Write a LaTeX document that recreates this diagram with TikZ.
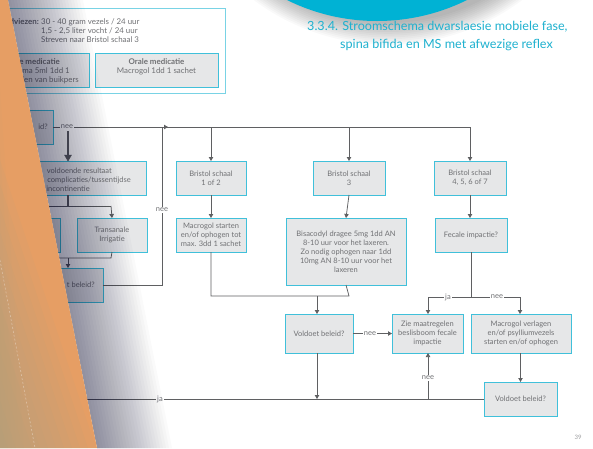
\documentclass[tikz,border=0pt]{standalone}
\usepackage{fontspec}
\setmainfont{Lato}
\usetikzlibrary{arrows.meta}
\definecolor{cyanT}{RGB}{30,177,207}
\definecolor{cyanC}{RGB}{0,178,212}
\definecolor{boxc}{RGB}{64,192,218}
\definecolor{boxf}{RGB}{230,231,232}
\definecolor{linec}{RGB}{95,96,98}
\definecolor{txt}{RGB}{112,113,116}
\definecolor{orangeC}{RGB}{230,158,100}
\definecolor{oliveC}{RGB}{176,168,134}
\newcommand\mybox[6]{\node[bx, minimum width={(#4)-(#2)}, minimum height={(#5)-(#3)}] (#1) at (#2,#3) {#6};}
\tikzset{
  bx/.style={draw=boxc, fill=boxf, line width=0.9pt, inner sep=1pt, outer sep=0pt, text=txt, align=center,
    font=\fontsize{7.5}{9}\selectfont, anchor=north west},
  conn/.style={draw=linec, line width=0.75pt},
  thick stem/.style={draw=linec, line width=1.6pt},
  arr/.style={conn, -{Triangle[length=4pt,width=4.4pt]}},
  lbl/.style={fill=white, inner sep=1pt, text=txt, font=\fontsize{7.5}{8}\selectfont},
  frag/.style={text=txt, inner sep=0pt, anchor=east, font=\fontsize{7.5}{9}\selectfont},
  toptxt/.style={text=txt, inner sep=0pt, anchor=west, font=\fontsize{7.9}{9}\selectfont},
  title/.style={text=cyanT, inner sep=0pt, anchor=west, font=\fontsize{12.6}{14}\selectfont},
}
\begin{document}
\begin{tikzpicture}[x=1pt,y=-1pt]
\useasboundingbox (0,0) rectangle (593,448);
\begin{scope}
\clip (0,0) rectangle (593,448);
\fill[white] (0,0) rectangle (593,448);
% circle with soft shadow
\foreach \k in {0,...,12} {\fill[black,opacity=0.025] (388,-180) circle ({203+1.8*\k});}
\fill[cyanC] (377,-182) circle (203);
% title
\node[title] (t1) at (307,27) {3.3.4. Stroomschema dwarslaesie mobiele fase,};
\node[title] (t2) at (340,45) {spina bifida en MS met afwezige reflex};
% advice box
\node[draw=boxc!70, fill=white, line width=0.6pt, anchor=north west, minimum width=235pt, minimum height=85pt, inner sep=0pt] (adv) at (-10,8) {};
\node[toptxt, anchor=east, font=\bfseries\fontsize{7.9}{9}\selectfont] (advl) at (39,22) {dviezen:};
\node[toptxt] (adv1) at (41,22) {30 - 40 gram vezels / 24 uur};
\node[toptxt] (adv2) at (41,31) {1,5 - 2,5 liter vocht / 24 uur};
\node[toptxt] (adv3) at (41,40) {Streven naar Bristol schaal 3};
\mybox{rect}{-10}{53}{89}{87}{}
\node[toptxt, anchor=east, font=\bfseries\fontsize{7.9}{9}\selectfont] (rect1) at (60,62) {e medicatie};
\node[toptxt, anchor=east] (rect2) at (70,71) {ma 5ml 1dd 1};
\node[toptxt, anchor=east] (rect3) at (79,80) {len van buikpers};
\mybox{oral}{95}{53}{218}{87}{}
\node[toptxt, anchor=center, font=\bfseries\fontsize{7.9}{9}\selectfont] (oral1) at (156.5,62) {Orale medicatie};
\node[toptxt, anchor=center] (oral2) at (156.5,71) {Macrogol 1dd 1 sachet};
% left column
\mybox{A}{-7}{110}{53}{144}{}
\node[frag] (a1) at (48,127) {id?};
\mybox{B}{-10}{161}{146}{195}{}
\node[frag] (b1) at (112,171) {voldoende resultaat};
\node[frag] (b2) at (131,180) {complicaties/tussentijdse};
\node[frag] (b3) at (90,189) {incontinentie};
\mybox{Lh}{-10}{218}{60}{252}{}
\mybox{T}{77}{218}{147}{252}{Transanale\\Irrigatie}
\mybox{C}{37}{268}{103}{302}{}
\node[frag] (c1) at (95,285) {t beleid?};
% middle / right columns
\mybox{D}{176}{161}{246}{195}{Bristol schaal\\1 of 2}
\mybox{E}{176}{218}{246}{252}{Macrogol starten\\en/of ophogen tot\\max. 3dd 1 sachet}
\mybox{G}{313}{161}{385}{195}{Bristol schaal\\3}
\mybox{H}{286}{218}{406}{285}{Bisacodyl dragee 5mg 1dd AN\\8-10 uur voor het laxeren.\\Zo nodig ophogen naar 1dd\\10mg AN 8-10 uur voor het\\laxeren}
\mybox{I}{434}{161}{506}{195}{Bristol schaal\\4, 5, 6 of 7}
\mybox{J}{435}{218}{507}{252}{Fecale impactie?}
\mybox{F}{285}{314}{353}{353}{Voldoet beleid?}
\mybox{K}{392}{314}{463}{353}{Zie maatregelen\\beslisboom fecale\\impactie}
\mybox{L}{471}{314}{571}{353}{Macrogol verlagen\\en/of psylliumvezels\\starten en/of ophogen}
\mybox{M}{484}{382}{557}{416}{Voldoet beleid?}
% coordinates
\coordinate (j0) at (68,127);
\coordinate (j1) at (211,127);
\coordinate (j2) at (349,127);
\coordinate (j3) at (470,127);
\coordinate (fb1) at (162,285);
\coordinate (fb2) at (162,127);
\coordinate (fb3) at (168,127);
\coordinate (s1) at (68,206);
\coordinate (s2) at (25,206);
\coordinate (s3) at (111,206);
\coordinate (m1) at (25,258);
\coordinate (m2) at (111,258);
\coordinate (m3) at (68,258);
\coordinate (e1) at (211,296);
\coordinate (e2) at (349,296);
\coordinate (e3) at (317,296);
\coordinate (f1) at (471,297);
\coordinate (f2) at (428,297);
\coordinate (f3) at (520,297);
\coordinate (g0) at (0,399);
\coordinate (g1) at (317,399);
\coordinate (g2) at (428,399);
% connectors
\draw[conn] (A.east |- j0) -- (j3);
\node[lbl] (n0) at (67,127) {nee};
\draw[thick stem] (68,131) -- (68,156);
\draw[linec, fill=linec] (64.5,155) -- (71.5,155) -- (68,161) -- cycle;
\draw[arr] (j1) -- (D.north);
\draw[arr] (j2) -- (G.north);
\draw[arr] (j3) -- (I.north);
\draw[thick stem] (B.south -| s1) -- (s1);
\draw[conn] (s2) -- (s3);
\draw[arr] (s2) -- (Lh.north -| s2);
\draw[arr] (s3) -- (T.north);
\draw[conn] (Lh.south -| m1) -- (m1) -- (m2) -- (T.south);
\draw[arr] (m3) -- (C.north -| m3);
\draw[arr] (C.east |- fb1) -- (fb1) -- (fb2) -- (fb3);
\node[lbl] (n1) at (162,210) {nee};
\draw[arr] (D.south) -- (E.north);
\draw[arr] (G.south) -- (H.north);
\draw[arr] (I.south) -- (J.north -| I.south);
\draw[conn] (E.south) -- (e1) -- (e2) -- (H.south);
\draw[arr] (e3) -- (F.north -| e3);
\draw[conn] (J.south -| f1) -- (f1);
\draw[conn] (f2) -- (f3);
\draw[arr] (f2) -- (K.north -| f2);
\draw[arr] (f3) -- (L.north -| f3);
\node[lbl] (n2) at (448,297) {ja};
\node[lbl] (n3) at (497,297) {nee};
\draw[arr] (F.east) -- (K.west);
\node[lbl] (n4) at (370,333.5) {nee};
\draw[arr] (L.south -| M.north) -- (M.north);
\draw[conn] (M.west) -- (g0 |- M.west);
\node[lbl] (n5) at (160,399) {ja};
\draw[arr] (F.south -| g1) -- (g1);
\draw[arr] (g2) -- (K.south -| g2);
\node[lbl] (n6) at (428,378) {nee};
% page number
\node[text=txt!70, font=\fontsize{6}{6}\selectfont, inner sep=0pt] (pg) at (578,437) {39};
% shadow of the orange page
\foreach \d in {3,6,...,75} {\fill[black!85!blue, opacity=0.021] (8,0) -- ({8+\d},0) -- ({97+\d},448) -- (97,448) -- cycle;}
% orange page
\fill[orangeC] (0,0) -- (8,0) -- (97,448) -- (0,448) -- cycle;
\begin{scope}
\clip (0,0) -- (8,0) -- (97,448) -- (0,448) -- cycle;
\foreach \i in {1,...,12} {\fill[oliveC, opacity=0.09] (0,448) -- (0,{448-24*\i}) -- ({8*\i},448) -- cycle;}
\foreach \i in {1,...,6} {\fill[oliveC, opacity=0.05] (0,448) -- (0,{448-60*\i}) -- ({4*\i},448) -- cycle;}
\end{scope}
\draw[white, opacity=0.35, line width=0.6pt, dash pattern=on 2pt off 2pt] (0,260) -- (35,448);
\end{scope}
\end{tikzpicture}
\end{document}
